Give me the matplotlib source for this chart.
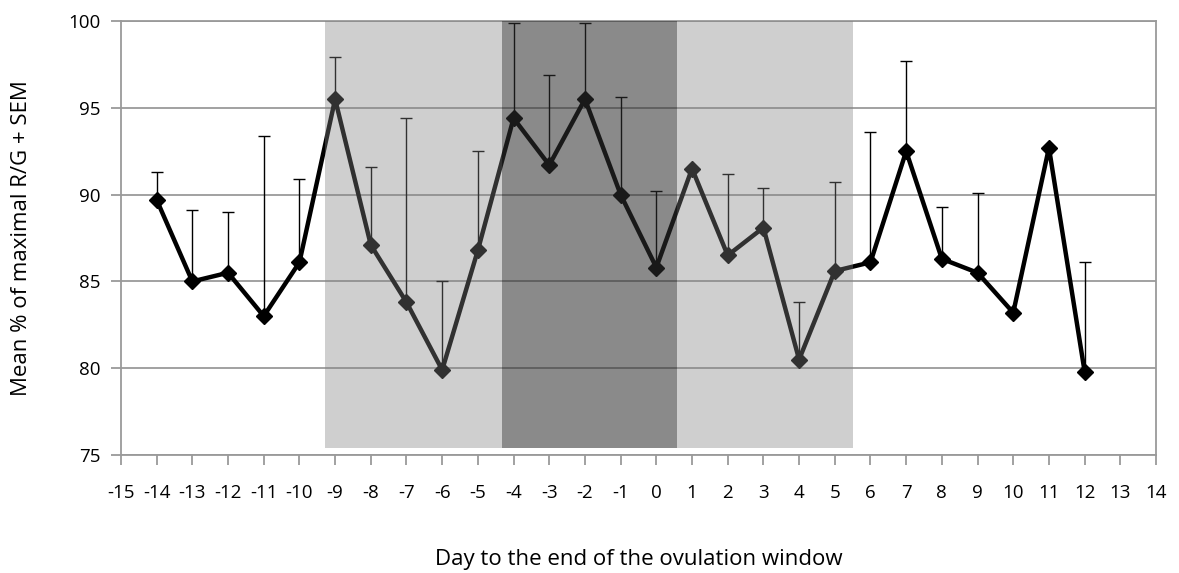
import numpy as np
import matplotlib.pyplot as plt

plt.rcParams['font.family'] = ['Open Sans', 'DejaVu Sans']
plt.rcParams['axes.unicode_minus'] = False

days = list(range(-14, 13))
mean_pct = [89.7, 85.0, 85.5, 83.0, 86.1, 95.5, 87.1, 83.8, 79.9, 86.8,
            94.4, 91.7, 95.5, 90.0, 85.8, 91.5, 86.5, 88.1, 80.5, 85.6,
            86.1, 92.5, 86.3, 85.5, 83.2, 92.7, 79.8]
# top of the SEM bar (nan = no bar drawn)
upper_pct = [91.3, 89.1, 89.0, 93.4, 90.9, 97.9, 91.6, 94.4, 85.0, 92.5,
             99.9, 96.9, 99.9, 95.6, 90.2, np.nan, 91.2, 90.4, 83.8, 90.7,
             93.6, 97.7, 89.3, 90.1, np.nan, np.nan, 86.1]

# shaded windows (light / dark / light)
light_spans = [(-9.27, -4.32), (0.57, 5.52)]
dark_span = (-4.32, 0.57)
shade_bottom = 75.4

x_ticks = list(range(-15, 15))
y_ticks = [75, 80, 85, 90, 95, 100]

fig = plt.figure(figsize=(11.79, 5.73), dpi=100)
ax = fig.add_axes([0.1026, 0.2059, 0.8779, 0.7574])

x = np.array(days)
m = np.array(mean_pct)
u = np.array(upper_pct)
ok = ~np.isnan(u)

ax.plot(x, m, color='black', lw=3.2, marker='D', markersize=8.5, zorder=3)
ax.errorbar(x[ok], m[ok], yerr=[np.zeros(ok.sum()), u[ok] - m[ok]],
            fmt='none', ecolor='black', elinewidth=1, capsize=4, capthick=1,
            zorder=3)

# translucent shading over the line, like the original
for a, b in light_spans:
    ax.fill_between([a, b], shade_bottom, 100, color=(0.51, 0.51, 0.51),
                    alpha=0.38, lw=0, zorder=4)
ax.fill_between(list(dark_span), shade_bottom, 100, color=(0.18, 0.18, 0.18),
                alpha=0.56, lw=0, zorder=4)

ax.set_xlim(-15, 14)
ax.set_ylim(75, 100)
ax.set_xticks(x_ticks)
ax.set_yticks(y_ticks)
ax.grid(axis='y', color='#9a9a9a', lw=1.3, zorder=1)
ax.set_axisbelow(True)

for s in ax.spines.values():
    s.set_color('#9a9a9a')
    s.set_linewidth(1.3)
ax.tick_params(axis='both', colors='#9a9a9a', width=1.3, length=7,
               labelcolor='black', labelsize=13.5)
ax.tick_params(axis='x', pad=14)
ax.tick_params(axis='y', pad=8)

ax.set_xlabel('Day to the end of the ovulation window', fontsize=16, labelpad=34)
ax.set_ylabel('Mean % of maximal R/G + SEM', fontsize=16, labelpad=26)

fig.savefig('out.png', dpi=100)
